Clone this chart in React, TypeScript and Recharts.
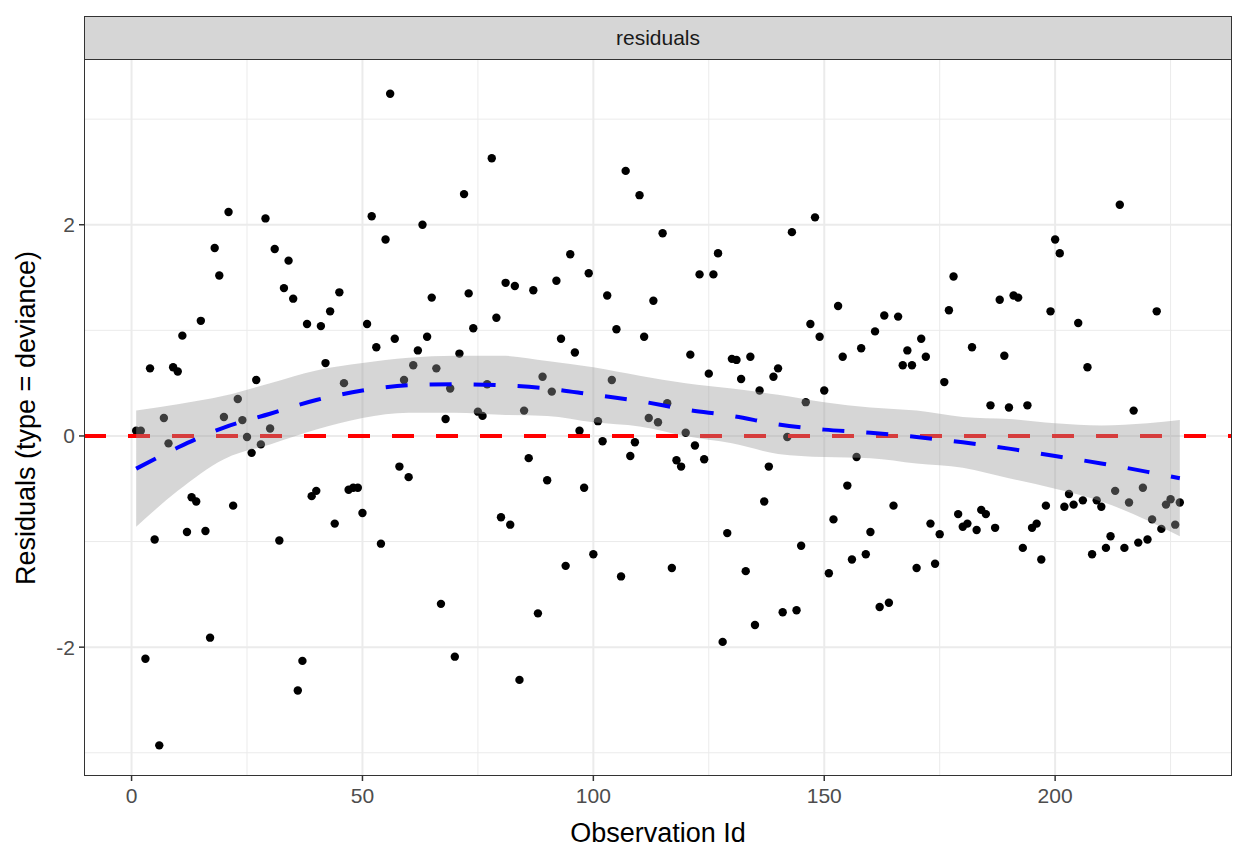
import React from "react";
import {
  ComposedChart,
  Scatter,
  Line,
  Area,
  XAxis,
  YAxis,
  CartesianGrid,
  ReferenceLine,
} from "recharts";

// deviance residuals, observation id = index + 1
const residuals = [
  0.05, 0.05, -2.11, 0.64, -0.98, -2.93, 0.17, -0.07, 0.65, 0.61,
  0.95, -0.91, -0.58, -0.62, 1.09, -0.9, -1.91, 1.78, 1.52, 0.18,
  2.12, -0.66, 0.35, 0.15, -0.01, -0.16, 0.53, -0.08, 2.06, 0.07,
  1.77, -0.99, 1.4, 1.66, 1.3, -2.41, -2.13, 1.06, -0.57, -0.52,
  1.04, 0.69, 1.18, -0.83, 1.36, 0.5, -0.51, -0.49, -0.49, -0.73,
  1.06, 2.08, 0.84, -1.02, 1.86, 3.24, 0.92, -0.29, 0.53, -0.39,
  0.67, 0.81, 2.0, 0.94, 1.31, 0.64, -1.59, 0.16, 0.45, -2.09,
  0.78, 2.29, 1.35, 1.02, 0.23, 0.19, 0.49, 2.63, 1.12, -0.77,
  1.45, -0.84, 1.42, -2.31, 0.24, -0.21, 1.38, -1.68, 0.56, -0.42,
  0.42, 1.47, 0.92, -1.23, 1.72, 0.79, 0.05, -0.49, 1.54, -1.12,
  0.14, -0.05, 1.33, 0.53, 1.01, -1.33, 2.51, -0.19, -0.06, 2.28,
  0.94, 0.17, 1.28, 0.13, 1.92, 0.31, -1.25, -0.23, -0.29, 0.03,
  0.77, -0.09, 1.53, -0.22, 0.59, 1.53, 1.73, -1.95, -0.92, 0.73,
  0.72, 0.54, -1.28, 0.75, -1.79, 0.43, -0.62, -0.29, 0.56, 0.64,
  -1.67, -0.01, 1.93, -1.65, -1.04, 0.32, 1.06, 2.07, 0.94, 0.43,
  -1.3, -0.79, 1.23, 0.75, -0.47, -1.17, -0.2, 0.83, -1.12, -0.91,
  0.99, -1.62, 1.14, -1.58, -0.66, 1.13, 0.67, 0.81, 0.67, -1.25,
  0.92, 0.75, -0.83, -1.21, -0.93, 0.51, 1.19, 1.51, -0.74, -0.86,
  -0.83, 0.84, -0.89, -0.7, -0.74, 0.29, -0.87, 1.29, 0.76, 0.27,
  1.33, 1.31, -1.06, 0.29, -0.87, -0.83, -1.17, -0.66, 1.18, 1.86,
  1.73, -0.67, -0.55, -0.65, 1.07, -0.61, 0.65, -1.12, -0.61, -0.67,
  -1.06, -0.95, -0.52, 2.19, -1.06, -0.63, 0.24, -1.01, -0.49, -0.98,
  -0.79, 1.18, -0.88, -0.65, -0.6, -0.84, -0.63,
];

// loess fit + confidence band
const fitIds = [1, 10, 20, 30, 40, 50, 60, 70, 80, 90, 100, 110, 120, 130, 140, 150, 160, 170, 180, 190, 200, 210, 220, 227];
const fitValues = [-0.31, -0.11, 0.08, 0.21, 0.34, 0.43, 0.48, 0.49, 0.48, 0.45, 0.39, 0.33, 0.25, 0.19, 0.11, 0.06, 0.03, -0.01, -0.06, -0.12, -0.19, -0.26, -0.34, -0.4];
const fitUpper = [0.24, 0.3, 0.38, 0.5, 0.62, 0.69, 0.74, 0.76, 0.76, 0.71, 0.65, 0.57, 0.5, 0.45, 0.39, 0.32, 0.27, 0.24, 0.18, 0.16, 0.12, 0.1, 0.12, 0.15];
const fitLower = [-0.86, -0.52, -0.22, -0.08, 0.06, 0.17, 0.22, 0.22, 0.2, 0.19, 0.13, 0.09, 0.0, -0.07, -0.17, -0.2, -0.21, -0.26, -0.3, -0.4, -0.5, -0.62, -0.8, -0.95];

const xMajorTicks = [0, 50, 100, 150, 200];
const xMinorTicks = [25, 75, 125, 175, 225];
const yMajorTicks = [-2, 0, 2];
const yMinorTicks = [-3, -1, 1, 3];

const stripLabel = "residuals";
const xTitle = "Observation Id";
const yTitle = "Residuals (type = deviance)";

const points = residuals.map((r, i) => ({ id: i + 1, resid: r }));
const smooth = fitIds.map((id, i) => ({
  id,
  fit: fitValues[i],
  band: [fitLower[i], fitUpper[i]],
}));

const FONT = "'Liberation Sans', Arial, Helvetica, sans-serif";

const Dot = (props: any) => {
  if (props.cx == null || props.cy == null) return null;
  return <circle cx={props.cx} cy={props.cy} r={4.2} fill="#000000" />;
};

const YTitle = ({ viewBox }: any) => {
  const cy = viewBox.y + viewBox.height / 2;
  return (
    <text
      x={26}
      y={cy}
      transform={`rotate(-90, 26, ${cy})`}
      textAnchor="middle"
      dominantBaseline="central"
      fontSize={27}
      fontFamily={FONT}
      fill="#000"
    >
      {yTitle}
    </text>
  );
};

const XTitle = ({ viewBox }: any) => (
  <text
    x={viewBox.x + viewBox.width / 2}
    y={842}
    textAnchor="middle"
    fontSize={27}
    fontFamily={FONT}
    fill="#000"
  >
    {xTitle}
  </text>
);

export default function App() {
  const tickStyle = { fill: "#4D4D4D", fontSize: 21, fontFamily: FONT };
  return (
    <div
      style={{
        position: "fixed",
        left: 0,
        top: 0,
        width: 1248,
        height: 864,
        background: "#fff",
        fontFamily: FONT,
      }}
    >
      <ComposedChart
        width={1248}
        height={864}
        margin={{ top: 60, right: 16, bottom: 0, left: 0 }}
      >
        <CartesianGrid
          stroke="#EBEBEB"
          strokeWidth={1}
          horizontalValues={yMinorTicks}
          verticalValues={xMinorTicks}
        />
        <CartesianGrid
          stroke="#EBEBEB"
          strokeWidth={2}
          horizontalValues={yMajorTicks}
          verticalValues={xMajorTicks}
        />
        <XAxis
          type="number"
          dataKey="id"
          domain={[-10.3, 238.3]}
          ticks={xMajorTicks}
          allowDataOverflow
          height={88}
          axisLine={false}
          tickSize={5}
          tickMargin={7}
          tickLine={{ stroke: "#333333", strokeWidth: 1.5 }}
          tick={tickStyle}
          label={<XTitle />}
        />
        <YAxis
          type="number"
          domain={[-3.22, 3.56]}
          ticks={yMajorTicks}
          allowDataOverflow
          width={84}
          axisLine={false}
          tickSize={5}
          tickMargin={4}
          tickLine={{ stroke: "#333333", strokeWidth: 1.5 }}
          tick={tickStyle}
          label={<YTitle />}
        />
        <Scatter
          data={points}
          dataKey="resid"
          shape={<Dot />}
          zIndex={50}
          isAnimationActive={false}
        />
        <ReferenceLine
          y={0}
          stroke="#FF0000"
          strokeWidth={4}
          strokeDasharray="22 22"
          zIndex={80}
        />
        <Area
          data={smooth}
          dataKey="band"
          type="monotone"
          stroke="none"
          fill="#999999"
          fillOpacity={0.4}
          zIndex={100}
          isAnimationActive={false}
        />
        <Line
          data={smooth}
          dataKey="fit"
          type="monotone"
          stroke="#0000FF"
          strokeWidth={4}
          strokeDasharray="22 22"
          dot={false}
          zIndex={400}
          isAnimationActive={false}
        />
      </ComposedChart>
      {/* facet strip */}
      <div
        style={{
          position: "absolute",
          left: 84,
          top: 16,
          width: 1148,
          height: 44,
          boxSizing: "border-box",
          background: "#D6D6D6",
          border: "1.5px solid #333333",
          display: "flex",
          alignItems: "center",
          justifyContent: "center",
          fontSize: 21,
          color: "#1A1A1A",
        }}
      >
        {stripLabel}
      </div>
      {/* panel border */}
      <div
        style={{
          position: "absolute",
          left: 84,
          top: 59,
          width: 1148,
          height: 717,
          boxSizing: "border-box",
          border: "1.5px solid #333333",
          pointerEvents: "none",
        }}
      />
    </div>
  );
}
